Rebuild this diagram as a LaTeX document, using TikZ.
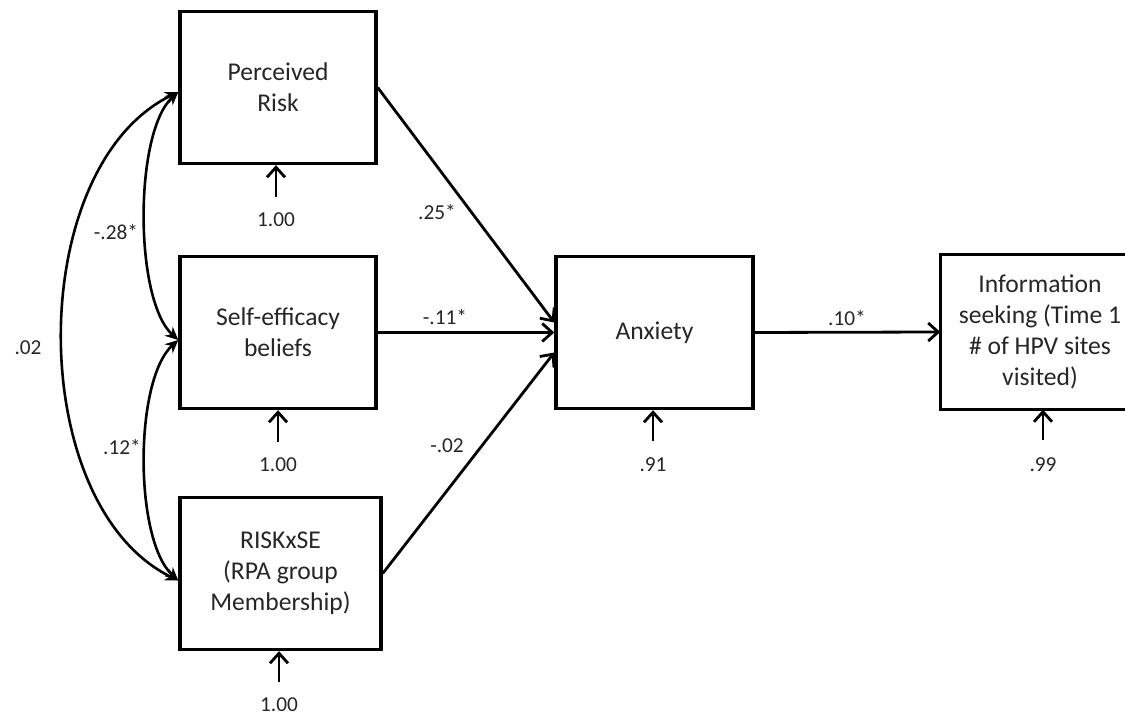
\documentclass[tikz,border=0pt]{standalone}
\usepackage{fontspec}
\setmainfont{Carlito}
\usetikzlibrary{arrows.meta,calc}
\begin{document}
\begin{tikzpicture}[x=1pt,y=1pt,
  box/.style={draw, line width=3.4pt, minimum width=196pt, minimum height=152pt,
    inner sep=0pt, align=center, text=black!85, font=\fontsize{25.6}{31}\selectfont},
  bline/.style={line width=3.4pt},
  lbl/.style={font=\fontsize{21.3}{25}\selectfont, inner sep=0pt, text=black!85},
  arr/.style={line width=2.8pt, -{Straight Barb[length=10pt,width=18pt]}},
  cov/.style={line width=2.6pt, {Stealth[length=13pt,width=12pt]}-{Stealth[length=13pt,width=12pt]}}
]
\useasboundingbox (0,0) rectangle (1125,717);
\clip (0,0) rectangle (1125,717);

% boxes
\node[box] (PR) at (278,629.5) {Perceived\\Risk};
\node[box] (SE) at (278,384.5) {Self-efficacy\\beliefs};
\node[box, minimum width=201pt] (RX) at (280.5,143.5) {RISKxSE\\(RPA group\\Membership)};
\node[box, minimum width=197pt] (AX) at (654.5,384.5) {Anxiety};
\node[box, draw=none] (IS) at (1040,385) {Information\\seeking (Time 1\\\# of HPV sites\\visited)};
\draw[bline] ($(IS.north east)+(10,0)$) -- (IS.north west) -- (IS.south west) -- ($(IS.south east)+(10,0)$);

% paths
\draw[arr] (PR.east) -- ($(AX.west)+(0,10)$);
\draw[arr] (SE.east) -- (AX.west);
\draw[arr] (RX.east) -- ($(AX.west)+(0,-20)$);
\draw[arr] (AX.east) -- (IS.west);

\node[lbl] (l25) at (437,505) {.25*};
\node[lbl] (l11) at (445,400) {-.11*};
\node[lbl] (l02) at (447,271) {-.02};
\node[lbl] (l10) at (847,399) {.10*};

% error terms
\coordinate (ePR) at (276,520);
\draw[arr] (ePR) -- (ePR |- PR.south);
\node[lbl] (lPR) at (276,497) {1.00};
\coordinate (eSE) at (278,275);
\draw[arr] (eSE) -- (eSE |- SE.south);
\node[lbl] (lSE) at (278,252) {1.00};
\coordinate (eRX) at (279,35);
\draw[arr] (eRX) -- (eRX |- RX.south);
\node[lbl] (lRX) at (279,12) {1.00};
\coordinate (eAX) at (653,276);
\draw[arr] (eAX) -- (eAX |- AX.south);
\node[lbl] (lAX) at (653,252) {.91};
\coordinate (eIS) at (1043,277);
\draw[arr] (eIS) -- (eIS |- IS.south);
\node[lbl] (lIS) at (1043,252) {.99};

% covariances
\coordinate (cPR) at ($(PR.west)+(0,-4.5)$);
\coordinate (cSE) at ($(SE.west)+(0,-7.5)$);
\coordinate (cRX) at ($(RX.west)+(0,-7)$);
\draw[cov] (cPR) .. controls (134,585) and (134,417) .. (cSE);
\draw[cov] (cSE) .. controls (134,337) and (134,177) .. (cRX);
\draw[cov] (cPR) .. controls (24,550) and (24,212) .. (cRX);

\node[lbl] (l28) at (116,485) {-.28*};
\node[lbl] (l12) at (122,270) {.12*};
\node[lbl] (l002) at (28,369) {.02};
\end{tikzpicture}
\end{document}
